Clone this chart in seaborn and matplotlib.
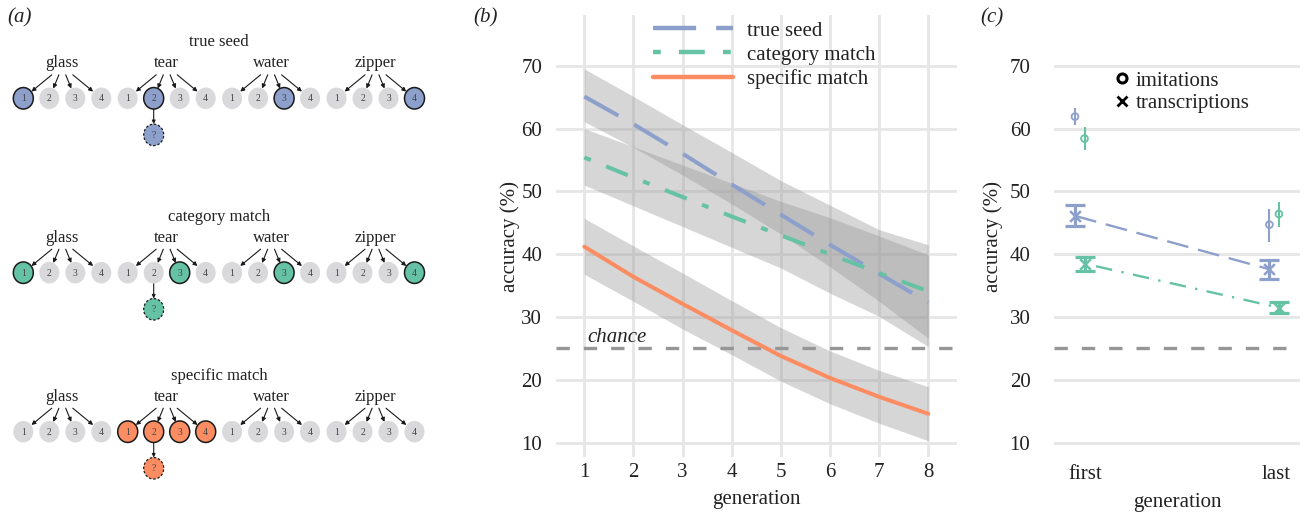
import numpy as np
import pandas as pd
import matplotlib
matplotlib.use("Agg")
import matplotlib.pyplot as plt
import seaborn as sns
from matplotlib.patches import Ellipse
from matplotlib.lines import Line2D

# ---------------- data ----------------
# panel (a): schematic
schemes = ["true seed", "category match", "specific match"]
seed_words = ["glass", "tear", "water", "zipper"]
option_labels = ["1", "2", "3", "4"]
highlight_true_seed = [(0, 0), (1, 1), (2, 2), (3, 3)]
highlight_category = [(0, 0), (1, 2), (2, 2), (3, 3)]
highlight_specific = [(1, 0), (1, 1), (1, 2), (1, 3)]
query_option = (1, 1)  # tear, option 2

# panel (b): model estimates by generation
generations = [1, 2, 3, 4, 5, 6, 7, 8]
true_seed = [65.1, 60.7, 56.0, 51.1, 46.3, 41.5, 36.9, 32.3]
true_seed_lo = [61.1, 57.0, 52.6, 48.0, 43.2, 38.0, 32.5, 26.6]
true_seed_hi = [69.5, 65.1, 60.6, 56.2, 51.7, 47.8, 43.9, 41.5]
category_match = [55.4, 52.2, 49.1, 46.0, 43.0, 40.0, 37.0, 34.1]
category_match_lo = [51.0, 47.7, 44.4, 41.1, 37.8, 33.8, 30.1, 25.3]
category_match_hi = [60.0, 57.1, 54.2, 51.3, 48.4, 45.8, 42.9, 39.9]
specific_match = [41.2, 36.4, 32.1, 27.9, 23.8, 20.3, 17.3, 14.6]
specific_match_lo = [36.8, 32.5, 28.1, 24.0, 19.8, 16.2, 13.1, 10.3]
specific_match_hi = [45.7, 41.3, 37.0, 32.6, 28.3, 24.6, 21.5, 18.9]
chance_level = 25

# panel (c): imitations vs transcriptions
gen_cats = ["first", "last"]
imit_true = [61.9, 44.7]
imit_true_lo = [60.6, 42.0]
imit_true_hi = [63.3, 47.2]
imit_cat = [58.4, 46.4]
imit_cat_lo = [56.6, 44.4]
imit_cat_hi = [60.2, 48.3]
trans_true = [46.1, 37.6]
trans_true_lo = [44.5, 36.1]
trans_true_hi = [47.8, 39.1]
trans_cat = [38.5, 31.5]
trans_cat_lo = [37.3, 30.7]
trans_cat_hi = [39.6, 32.4]

# ---------------- style ----------------
BLUE = "#8DA0CB"
GREEN = "#66C2A5"
ORANGE = "#FC8D62"
GRID = "#E6E6E6"
CHANCE = "#969696"
BAND = "#999999"
TXT = "#222222"

sns.set_theme(style="whitegrid")
plt.rcParams["font.family"] = ["Liberation Serif", "DejaVu Serif"]

W, H = 1304, 513
fig = plt.figure(figsize=(W / 100, H / 100), dpi=100)
fig.patch.set_facecolor("white")

def fx(px):
    return px / W

def fy(py):
    return 1 - py / H

# ---------------- panel (a) ----------------
axA = fig.add_axes([0, 0, 480 / W, 1])
axA.set_xlim(0, 480)
axA.set_ylim(H, 0)
axA.axis("off")

scheme_colors = {"true seed": BLUE, "category match": GREEN, "specific match": ORANGE}
scheme_highlights = {"true seed": highlight_true_seed,
                     "category match": highlight_category,
                     "specific match": highlight_specific}
row_y = [98.3, 272.7, 431.7]
x0, group_step, opt_step = 23.3, 104.4, 26.0
ew, eh = 20.0, 21.5
arrow_offsets = [-10.5, -3.4, 3.4, 10.5]
center_x = x0 + (opt_step * 3 + group_step * 3) / 2

for r, scheme in enumerate(schemes):
    cy = row_y[r]
    col = scheme_colors[scheme]
    axA.text(center_x, cy - 52, scheme, ha="center", va="baseline", fontsize=12, color=TXT)
    for g, word in enumerate(seed_words):
        wx = x0 + group_step * g + opt_step * 1.5
        axA.text(wx, cy - 31, word, ha="center", va="baseline", fontsize=12, color=TXT)
        for k, lab in enumerate(option_labels):
            cx = x0 + group_step * g + opt_step * k
            hl = (g, k) in scheme_highlights[scheme]
            axA.add_patch(Ellipse((cx, cy), ew, eh,
                                  facecolor=col if hl else "#D9D9DB",
                                  edgecolor="#1a1a1a" if hl else "none",
                                  lw=1.1, zorder=2))
            axA.text(cx, cy + 0.5, lab, ha="center", va="center", fontsize=7, color="#444444", zorder=3)
            axA.annotate("", xy=(cx, cy), xytext=(wx + arrow_offsets[k], cy - 23.5),
                         arrowprops=dict(arrowstyle="-|>", color="#1a1a1a", lw=0.8,
                                         shrinkA=0, shrinkB=7.6, mutation_scale=6),
                         zorder=1)
    # query node
    qg, qk = query_option
    qx = x0 + group_step * qg + opt_step * qk
    qy = cy + 36.6
    axA.add_patch(Ellipse((qx, qy), ew, eh, facecolor=col, edgecolor="#1a1a1a",
                          lw=0.9, ls=(0, (2, 1.5)), zorder=2))
    axA.text(qx, qy + 0.5, "?", ha="center", va="center", fontsize=7, color="#444444", zorder=3)
    axA.annotate("", xy=(qx, qy), xytext=(qx, cy + eh / 2),
                 arrowprops=dict(arrowstyle="-|>", color="#1a1a1a", lw=0.8,
                                 shrinkA=0, shrinkB=7.8, mutation_scale=5), zorder=1)

fig.text(fx(20), fy(18), "(a)", ha="center", va="center", fontsize=15, style="italic", color=TXT)

# ---------------- panel (b) ----------------
YLIM = (7.72, 78.07)
axB = fig.add_axes([fx(556), fy(457), fx(401), 442 / H])
axB.set_facecolor("white")
for s in axB.spines.values():
    s.set_visible(False)
axB.grid(True, color=GRID, lw=2)
axB.set_axisbelow(True)

bands = [(true_seed_lo, true_seed_hi), (category_match_lo, category_match_hi),
         (specific_match_lo, specific_match_hi)]
for lo, hi in bands:
    axB.fill_between(generations, lo, hi, color=BAND, alpha=0.4, lw=0, zorder=1.5)

axB.axhline(chance_level, color=CHANCE, lw=2.4, ls=(0, (4.0, 4.2)), zorder=1.8)
axB.text(1.07, 26.1, "chance", style="italic", fontsize=15, ha="left", va="baseline", color=TXT)

series = [("true seed", true_seed, BLUE, (0, (9.7, 4.5))),
          ("specific match", specific_match, ORANGE, "-"),
          ("category match", category_match, GREEN, (0, (1.75, 4.1, 5.8, 4.1)))]
handles = {}
for name, vals, col, ls in series:
    df = pd.DataFrame({"generation": generations, "accuracy": vals})
    n_before = len(axB.lines)
    sns.lineplot(data=df, x="generation", y="accuracy", color=col, lw=2.9,
                 linestyle=ls, ax=axB, zorder=3, errorbar=None)
    ln = axB.lines[n_before]
    ln.set_dash_capstyle("butt")
    ln.set_solid_capstyle("round")
    handles[name] = Line2D([], [], color=col, lw=3.2, linestyle=ls, dash_capstyle="butt")

axB.set_xlim(0.424, 8.584)
axB.set_ylim(*YLIM)
axB.set_xticks(generations)
axB.set_yticks([10, 20, 30, 40, 50, 60, 70])
axB.tick_params(axis="both", length=0, labelsize=15, colors=TXT)
axB.tick_params(axis="x", pad=4)
axB.tick_params(axis="y", pad=10)
axB.set_xlabel("generation", fontsize=15, color=TXT, labelpad=6)
axB.set_ylabel("accuracy (%)", fontsize=15, color=TXT, labelpad=1)
legB = axB.legend([handles["true seed"], handles["category match"], handles["specific match"]],
                  ["true seed", "category match", "specific match"],
                  loc="upper left", bbox_to_anchor=(fx(653), fy(21)), bbox_transform=fig.transFigure,
                  frameon=False, fontsize=15, borderpad=0, handlelength=3.84,
                  handletextpad=0.67, labelspacing=0.22, borderaxespad=0)
for t in legB.get_texts():
    t.set_color(TXT)
fig.text(fx(486), fy(18), "(b)", ha="center", va="center", fontsize=15, style="italic", color=TXT)

# ---------------- panel (c) ----------------
axC = fig.add_axes([fx(1054), fy(457), fx(246), 442 / H])
axC.set_facecolor("white")
for s in axC.spines.values():
    s.set_visible(False)
axC.grid(False)
axC.yaxis.grid(True, color=GRID, lw=2)
axC.set_axisbelow(True)
axC.axhline(chance_level, xmin=0, xmax=0.946, color=CHANCE, lw=2.4, ls=(0, (4.0, 4.2)), zorder=1)

xpos = np.arange(len(gen_cats))
dodge = 0.0245
groups = [
    (trans_true, trans_true_lo, trans_true_hi, imit_true, imit_true_lo, imit_true_hi, BLUE, -dodge, (0, (9.3, 4.2))),
    (trans_cat, trans_cat_lo, trans_cat_hi, imit_cat, imit_cat_lo, imit_cat_hi, GREEN, dodge, (0, (1.0, 4.0, 7.0, 4.0))),
]
for tv, tlo, thi, iv, ilo, ihi, col, dx, ls in groups:
    xs = xpos + dx
    tv, tlo, thi = np.array(tv), np.array(tlo), np.array(thi)
    iv, ilo, ihi = np.array(iv), np.array(ilo), np.array(ihi)
    df_t = pd.DataFrame({"x": xs, "acc": tv})
    n_before = len(axC.lines)
    sns.lineplot(data=df_t, x="x", y="acc", color=col, lw=1.7, linestyle=ls, ax=axC, zorder=2, errorbar=None)
    axC.lines[n_before].set_dash_capstyle("butt")
    axC.errorbar(xs, tv, yerr=[tv - tlo, thi - tv], fmt="none", ecolor=col,
                 elinewidth=2.3, capsize=7, capthick=2.3, zorder=3)
    sns.scatterplot(data=df_t, x="x", y="acc", marker="x", s=60, color=col, linewidth=1.8, ax=axC, zorder=4)
    df_i = pd.DataFrame({"x": xs, "acc": iv})
    axC.errorbar(xs, iv, yerr=[iv - ilo, ihi - iv], fmt="none", ecolor=col, elinewidth=1.5, zorder=3)
    sns.scatterplot(data=df_i, x="x", y="acc", marker="o", s=24, facecolors="none",
                    edgecolor=col, linewidth=1.3, ax=axC, zorder=4)

axC.set_xlim(-0.1325, 1.133)
axC.set_ylim(*YLIM)
axC.set_xticks(xpos + np.array([0.03, 0.01]))
axC.set_xticklabels(gen_cats)
axC.set_yticks([10, 20, 30, 40, 50, 60, 70])
axC.tick_params(axis="both", length=0, labelsize=15, colors=TXT)
axC.tick_params(axis="x", pad=6)
axC.tick_params(axis="y", pad=17)
axC.set_xlabel("generation", fontsize=15, color=TXT, labelpad=6)
axC.set_ylabel("accuracy (%)", fontsize=15, color=TXT, labelpad=5)
legC_handles = [Line2D([], [], marker="o", color="black", mfc="none", mew=2.2, ms=6.5, ls="none"),
                Line2D([], [], marker="x", color="black", mew=2.0, ms=7, ls="none")]
legC = axC.legend(legC_handles, ["imitations", "transcriptions"], loc="upper left",
                  bbox_to_anchor=(fx(1111.3), fy(71)), bbox_transform=fig.transFigure,
                  frameon=False, fontsize=15, borderpad=0, handlelength=1.0,
                  handletextpad=0.15, labelspacing=0.16, borderaxespad=0)
for t in legC.get_texts():
    t.set_color(TXT)
fig.text(fx(992), fy(18), "(c)", ha="center", va="center", fontsize=15, style="italic", color=TXT)

fig.savefig("out.png", dpi=100, facecolor="white")
